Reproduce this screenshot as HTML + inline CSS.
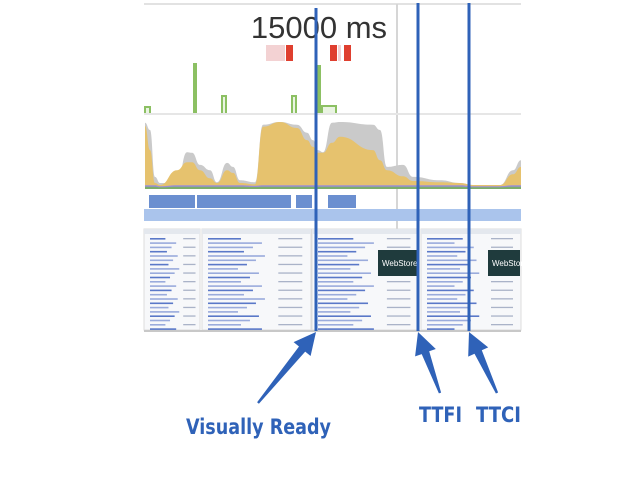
<!DOCTYPE html>
<html><head><meta charset="utf-8">
<style>
html,body{margin:0;padding:0;background:#fff;}
body{width:640px;height:482px;overflow:hidden;font-family:"Liberation Sans",sans-serif;}
svg{display:block}
.lbl{font-family:"DejaVu Sans","Liberation Sans",sans-serif;font-weight:bold;fill:#2f62b8;stroke:#fff;stroke-width:3px;paint-order:stroke;}
</style></head>
<body>
<svg id="c" width="640" height="482" viewBox="0 0 640 482">
  <rect x="0" y="0" width="640" height="482" fill="#fff"/>
  <line x1="144" y1="4" x2="521" y2="4" stroke="#e2e2e2" stroke-width="2"/>
  <line x1="397" y1="4" x2="397" y2="331" stroke="#d6d6d6" stroke-width="2"/>
  <text x="319" y="38" font-size="31" fill="#333" text-anchor="middle" font-family="Liberation Sans, sans-serif">15000 ms</text>
  <g id="marks"></g>
  <g id="fps"></g>
  <line x1="144" y1="114" x2="521" y2="114" stroke="#e6e6e6" stroke-width="2"/>
  <g id="cpu"></g>
  <g id="net"></g>
  <rect x="144" y="209" width="377" height="12" fill="#aac4ec"/>
  <g id="film"></g>
  <line x1="144" y1="331" x2="521" y2="331" stroke="#c8c8c8" stroke-width="2"/>
  <g id="ann"></g>
  <text class="lbl" x="186" y="434" font-size="21" textLength="145" lengthAdjust="spacingAndGlyphs">Visually Ready</text>
  <text class="lbl" x="419" y="422" font-size="21" textLength="43" lengthAdjust="spacingAndGlyphs">TTFI</text>
  <text class="lbl" x="476" y="422" font-size="21" textLength="45" lengthAdjust="spacingAndGlyphs">TTCI</text>
</svg>
<script>
// CPU data (time in ms, usage in %)
const times = [50,300,550,800,1650,2150,2400,2800,3300,3650,4150,4450,4800,5550,5950,6800,7650,8150,8450,8700,8950,9400,9800,11450,11800,12150,12950,13450,14800,15800,16450,17800,18450,18850];
const totalCpu = [99,88,18,9,9,55,54,36,28,10,39,33,13,10,96,100,96,84,73,58,55,99,100,96,88,33,36,18,13,9,6,6,28,43];
const scriptCpu = [94,58,9,6,28,40,40,28,16,9,28,24,9,7,93,100,91,73,63,54,54,69,78,58,43,28,19,12,10,9,6,6,22,33];
// FPS bars (start ms, end ms, height %)
const fpsStart = [0,2450,3850,7350,8650,8850];
const fpsEnd = [300,2600,4100,7600,8750,9600];
const fpsVal = [14,100,36,36,96,16];
// Network bars (start ms, end ms)
const netStart = [250,2650,7600,9200];
const netEnd = [2550,7350,8400,10600];
// Long task markers (start ms, end ms, severity: 1 = red, 0 = pale)
const taskStart = [6100,7100,9300,9700,10000];
const taskEnd = [7050,7450,9650,9850,10350];
const taskSev = [0,1,1,0,1];
// Annotation times (ms)
const annTimes = [8600,13700,16250];
const annNames = ['visually-ready','ttfi','ttci'];

const NS='http://www.w3.org/2000/svg';
const x0=144, pxPerMs=1/50;
function xs(t){return x0+t*pxPerMs;}
function ys(v){return 189-v*0.67;}
function mk(tag,attrs,parent){const e=document.createElementNS(NS,tag);for(const k in attrs)e.setAttribute(k,attrs[k]);parent.appendChild(e);return e;}

// CPU areas (smoothed)
const cpu=document.getElementById('cpu');
function area(vals,fill,name){
  const pts=times.map((t,i)=>[xs(t),ys(vals[i])]);
  let d='M'+pts[0][0]+',189 L'+pts[0][0].toFixed(1)+','+pts[0][1].toFixed(1);
  for(let i=1;i<pts.length;i++){
    const p=pts[i-1], q=pts[i], mx=(p[0]+q[0])/2;
    d+=' C'+mx.toFixed(1)+','+p[1].toFixed(1)+' '+mx.toFixed(1)+','+q[1].toFixed(1)+' '+q[0].toFixed(1)+','+q[1].toFixed(1);
  }
  d+=' L'+pts[pts.length-1][0]+',189 Z';
  const p=mk('path',{d:d,fill:fill},cpu);
  
  
}
area(totalCpu,'#cacaca','cpu-total-area');
area(scriptCpu,'#e6c26e','cpu-scripting-area');
const small=scriptCpu.map(v=>Math.min(v,8)*0.7);
area(small,'#9b8fd6','cpu-rendering-area');
area(small.map(v=>v*0.6),'#7cae6a','cpu-painting-area');

// FPS
const fps=document.getElementById('fps');
fpsStart.forEach((s,i)=>{
  const h=fpsVal[i]*0.5;
  const r=mk('rect',{x:xs(s)+1,y:114-h,width:Math.max(2,(fpsEnd[i]-s)*pxPerMs-1),height:h,fill:'#eaf4e2',stroke:'#8cc063','stroke-width':2},fps);
  
  
});

// Markers
const mg=document.getElementById('marks');
taskStart.forEach((s,i)=>{
  const r=mk('rect',{x:xs(s),y:45,width:(taskEnd[i]-s)*pxPerMs,height:16,fill:taskSev[i]?'#df3f2f':'#f3d2d3'},mg);
  
  
});

// Network
const net=document.getElementById('net');
netStart.forEach((s,i)=>{
  const r=mk('rect',{x:xs(s),y:195,width:(netEnd[i]-s)*pxPerMs,height:13,fill:'#6b8fd0'},net);
  
  
});

// Filmstrip
const film=document.getElementById('film');
const frames=[[144,200],[202,311],[312,419],[421,521]];
frames.forEach((f,fi)=>{
  const g=mk('g',{},film);
  
  
  mk('rect',{x:f[0],y:229,width:f[1]-f[0],height:101,fill:'#f7f8fa',stroke:'#dcdcdc','stroke-width':1},g);
  mk('rect',{x:f[0],y:229,width:f[1]-f[0],height:5,fill:'#e4e8ee'},g);
  for(let r=0;r<22;r++){
    const y=238+r*4.3;
    const w=(f[1]-f[0])*0.55*(0.5+((r*37+fi*11)%10)/20);
    mk('rect',{x:f[0]+6,y:y,width:w,height:1.6,fill:r%3==0?'#5a78c8':'#9aabdc'},g);
    if(r%2==0) mk('rect',{x:f[0]+(f[1]-f[0])*0.7,y:y,width:(f[1]-f[0])*0.22,height:1.3,fill:'#aab3c8'},g);
  }
  if(fi>=2){
    const dx=fi==2?378:488;
    mk('rect',{x:dx,y:250,width:f[1]-dx-1,height:26,fill:'#1f3b3d'},g);
    mk('text',{x:dx+4,y:266,'font-size':8,fill:'#fff','font-family':'Liberation Sans, sans-serif'},g).textContent='WebStore';
  }
});

// Annotations
const ann=document.getElementById('ann');
const tails=[[258,403],[440,393],[497,393]];
annTimes.forEach((t,i)=>{
  const x=xs(t);
  const l=mk('line',{x1:x,y1:i==0?8:3,x2:x,y2:331,stroke:'#2f62b8','stroke-width':3},ann);
  
  
  const tx=tails[i][0], ty=tails[i][1], hx=x, hy=332;
  const dx=hx-tx, dy=hy-ty, L=Math.hypot(dx,dy), ux=dx/L, uy=dy/L, px=-uy, py=ux;
  const nb=22, hw=11, nw=4, tw=1.2;
  const bx=hx-ux*nb, by=hy-uy*nb;
  const pts=[[hx,hy],[bx+px*hw,by+py*hw],[bx+px*nw,by+py*nw],[tx+px*tw,ty+py*tw],[tx-px*tw,ty-py*tw],[bx-px*nw,by-py*nw],[bx-px*hw,by-py*hw]];
  const a=mk('polygon',{points:pts.map(p=>p[0].toFixed(1)+','+p[1].toFixed(1)).join(' '),fill:'#2f62b8'},ann);
  
  
});
</script>
</body></html>
